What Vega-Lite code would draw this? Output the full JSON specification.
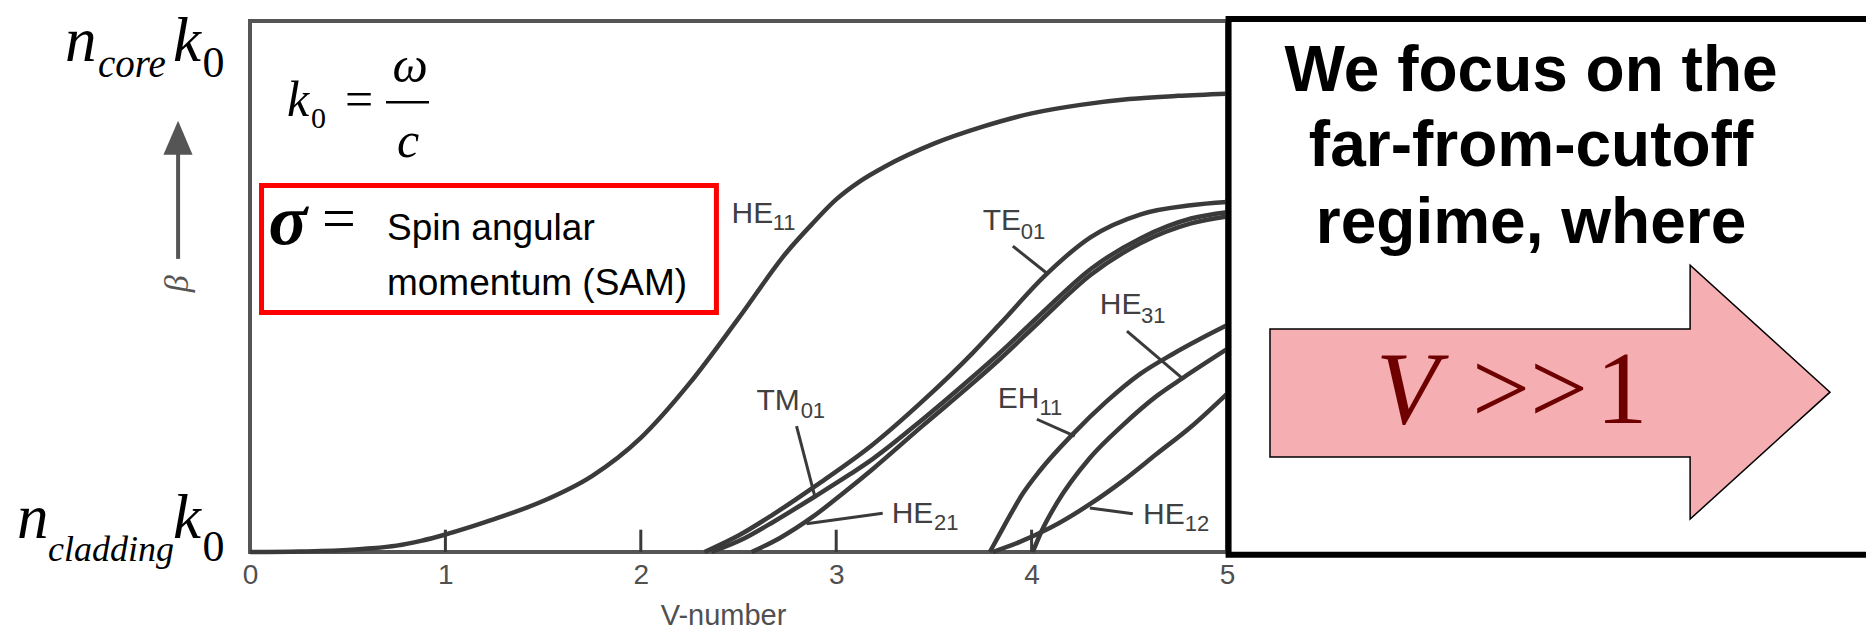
{
  "$schema": "https://vega.github.io/schema/vega-lite/v6.json",
  "width": 977,
  "height": 531,
  "autosize": {"type": "none"},
  "padding": {"left": 250, "top": 21, "right": 639, "bottom": 84},
  "background": "white",
  "config": {"view": {"stroke": "#555555", "strokeWidth": 4}},
  "datasets": {
    "curves": [
      {"m": "HE11", "V": 0, "b": 0}, {"m": "HE11", "V": 0.25, "b": 0.001}, {"m": "HE11", "V": 0.5, "b": 0.004},
      {"m": "HE11", "V": 0.625, "b": 0.007}, {"m": "HE11", "V": 0.75, "b": 0.012}, {"m": "HE11", "V": 0.875, "b": 0.021},
      {"m": "HE11", "V": 1.0, "b": 0.033}, {"m": "HE11", "V": 1.125, "b": 0.047}, {"m": "HE11", "V": 1.25, "b": 0.062},
      {"m": "HE11", "V": 1.5, "b": 0.096}, {"m": "HE11", "V": 1.75, "b": 0.143}, {"m": "HE11", "V": 2.0, "b": 0.215},
      {"m": "HE11", "V": 2.25, "b": 0.318}, {"m": "HE11", "V": 2.5, "b": 0.440}, {"m": "HE11", "V": 2.75, "b": 0.566},
      {"m": "HE11", "V": 2.875, "b": 0.617}, {"m": "HE11", "V": 3.0, "b": 0.664}, {"m": "HE11", "V": 3.125, "b": 0.699},
      {"m": "HE11", "V": 3.25, "b": 0.726}, {"m": "HE11", "V": 3.5, "b": 0.769},
      {"m": "HE11", "V": 3.75, "b": 0.801}, {"m": "HE11", "V": 4.0, "b": 0.826}, {"m": "HE11", "V": 4.25, "b": 0.842},
      {"m": "HE11", "V": 4.5, "b": 0.853}, {"m": "HE11", "V": 4.75, "b": 0.859}, {"m": "HE11", "V": 5.0, "b": 0.863},

      {"m": "TE01", "V": 2.326, "b": 0}, {"m": "TE01", "V": 2.505, "b": 0.032}, {"m": "TE01", "V": 2.674, "b": 0.070},
      {"m": "TE01", "V": 2.900, "b": 0.126}, {"m": "TE01", "V": 3.186, "b": 0.202}, {"m": "TE01", "V": 3.442, "b": 0.284},
      {"m": "TE01", "V": 3.699, "b": 0.375}, {"m": "TE01", "V": 3.842, "b": 0.431}, {"m": "TE01", "V": 4.067, "b": 0.520},
      {"m": "TE01", "V": 4.303, "b": 0.593}, {"m": "TE01", "V": 4.559, "b": 0.636}, {"m": "TE01", "V": 4.815, "b": 0.653},
      {"m": "TE01", "V": 5.0, "b": 0.659},

      {"m": "TM01", "V": 2.362, "b": 0}, {"m": "TM01", "V": 2.531, "b": 0.026}, {"m": "TM01", "V": 2.684, "b": 0.058},
      {"m": "TM01", "V": 2.889, "b": 0.104}, {"m": "TM01", "V": 3.069, "b": 0.146}, {"m": "TM01", "V": 3.186, "b": 0.175},
      {"m": "TM01", "V": 3.443, "b": 0.250}, {"m": "TM01", "V": 3.699, "b": 0.330}, {"m": "TM01", "V": 3.837, "b": 0.375},
      {"m": "TM01", "V": 4.047, "b": 0.448}, {"m": "TM01", "V": 4.303, "b": 0.533}, {"m": "TM01", "V": 4.559, "b": 0.591},
      {"m": "TM01", "V": 4.816, "b": 0.628}, {"m": "TM01", "V": 5.0, "b": 0.640},

      {"m": "HE21", "V": 2.567, "b": 0}, {"m": "HE21", "V": 2.710, "b": 0.026}, {"m": "HE21", "V": 2.879, "b": 0.066},
      {"m": "HE21", "V": 3.043, "b": 0.113}, {"m": "HE21", "V": 3.186, "b": 0.156}, {"m": "HE21", "V": 3.443, "b": 0.238},
      {"m": "HE21", "V": 3.699, "b": 0.318}, {"m": "HE21", "V": 3.837, "b": 0.363}, {"m": "HE21", "V": 4.047, "b": 0.436},
      {"m": "HE21", "V": 4.303, "b": 0.522}, {"m": "HE21", "V": 4.559, "b": 0.582}, {"m": "HE21", "V": 4.816, "b": 0.619},
      {"m": "HE21", "V": 5.0, "b": 0.632},

      {"m": "EH11", "V": 3.786, "b": 0}, {"m": "EH11", "V": 3.837, "b": 0.034}, {"m": "EH11", "V": 3.888, "b": 0.068},
      {"m": "EH11", "V": 3.955, "b": 0.110}, {"m": "EH11", "V": 4.042, "b": 0.153}, {"m": "EH11", "V": 4.211, "b": 0.222},
      {"m": "EH11", "V": 4.385, "b": 0.284}, {"m": "EH11", "V": 4.554, "b": 0.335}, {"m": "EH11", "V": 4.723, "b": 0.373},
      {"m": "EH11", "V": 4.862, "b": 0.401}, {"m": "EH11", "V": 5.0, "b": 0.427},

      {"m": "HE31", "V": 4.006, "b": 0}, {"m": "HE31", "V": 4.052, "b": 0.040}, {"m": "HE31", "V": 4.129, "b": 0.092},
      {"m": "HE31", "V": 4.298, "b": 0.177}, {"m": "HE31", "V": 4.467, "b": 0.239}, {"m": "HE31", "V": 4.641, "b": 0.294},
      {"m": "HE31", "V": 4.775, "b": 0.328}, {"m": "HE31", "V": 5.0, "b": 0.382},

      {"m": "HE12", "V": 3.801, "b": 0}, {"m": "HE12", "V": 3.940, "b": 0.019}, {"m": "HE12", "V": 4.093, "b": 0.045},
      {"m": "HE12", "V": 4.298, "b": 0.090}, {"m": "HE12", "V": 4.467, "b": 0.134}, {"m": "HE12", "V": 4.641, "b": 0.185},
      {"m": "HE12", "V": 4.810, "b": 0.234}, {"m": "HE12", "V": 5.0, "b": 0.298}
    ],
    "leaders": [
      {"m": "TM01", "V": 2.797, "b": 0.237, "V2": 2.889, "b2": 0.107},
      {"m": "HE21", "V": 3.238, "b": 0.073, "V2": 2.848, "b2": 0.053},
      {"m": "EH11", "V": 4.027, "b": 0.250, "V2": 4.221, "b2": 0.218},
      {"m": "HE31", "V": 4.488, "b": 0.416, "V2": 4.775, "b2": 0.326},
      {"m": "HE12", "V": 4.518, "b": 0.072, "V2": 4.298, "b2": 0.083},
      {"m": "TE01", "V": 3.904, "b": 0.576, "V2": 4.078, "b2": 0.525}
    ],
    "ticks": [
      {"V": 1, "b": 0, "b2": 0.042}, {"V": 2, "b": 0, "b2": 0.042},
      {"V": 3, "b": 0, "b2": 0.042}, {"V": 4, "b": 0, "b2": 0.042}
    ],
    "redbox": [{"V": 0.059, "V2": 2.387, "b": 0.451, "b2": 0.690}],
    "blackbox": [{"V": 5.008, "V2": 8.6, "b": -0.005, "b2": 1.004}],
    "frac": [{"V": 0.696, "V2": 0.916, "b": 0.847, "b2": 0.847}],
    "bshaft": [{"V": -0.368, "b": 0.552, "b2": 0.760}],
    "bhead": [
      {"V": -0.443, "b": 0.748, "b2": 0.748},
      {"V": -0.368, "b": 0.812, "b2": 0.748},
      {"V": -0.294, "b": 0.748, "b2": 0.748}
    ],
    "arrow": [
      {"V": 5.220, "b": 0.420, "b2": 0.179},
      {"V": 7.370, "b": 0.420, "b2": 0.179},
      {"V": 7.3702, "b": 0.540, "b2": 0.062},
      {"V": 8.086, "b": 0.301, "b2": 0.301}
    ],
    "texts": [
      {"g": "lab", "t": "HE", "V": 2.464, "b": 0.620},
      {"g": "lab", "t": "TE", "V": 3.750, "b": 0.606},
      {"g": "lab", "t": "TM", "V": 2.592, "b": 0.267},
      {"g": "lab", "t": "HE", "V": 3.284, "b": 0.055},
      {"g": "lab", "t": "EH", "V": 3.827, "b": 0.271},
      {"g": "lab", "t": "HE", "V": 4.349, "b": 0.448},
      {"g": "lab", "t": "HE", "V": 4.570, "b": 0.053},
      {"g": "sub", "t": "11", "V": 2.675, "b": 0.606},
      {"g": "sub", "t": "01", "V": 3.945, "b": 0.589},
      {"g": "sub", "t": "01", "V": 2.818, "b": 0.252},
      {"g": "sub", "t": "21", "V": 3.500, "b": 0.041},
      {"g": "sub", "t": "11", "V": 4.040, "b": 0.258},
      {"g": "sub", "t": "31", "V": 4.560, "b": 0.431},
      {"g": "sub", "t": "12", "V": 4.784, "b": 0.040},
      {"g": "ital50c", "t": "k", "V": 0.246, "b": 0.821},
      {"g": "ital50c", "t": "ω", "V": 0.819, "b": 0.885},
      {"g": "ital50c", "t": "c", "V": 0.809, "b": 0.744},
      {"g": "rom30", "t": "0", "V": 0.312, "b": 0.798},
      {"g": "rom50c", "t": "=", "V": 0.558, "b": 0.821},
      {"g": "rom60c", "t": "=", "V": 0.455, "b": 0.591},
      {"g": "sigma", "t": "σ", "V": 0.194, "b": 0.580},
      {"g": "sans37", "t": "Spin angular", "V": 0.701, "b": 0.588},
      {"g": "sans37", "t": "momentum (SAM)", "V": 0.701, "b": 0.484},
      {"g": "ital64", "t": "n", "V": -0.947, "b": 0.925},
      {"g": "ital64", "t": "k", "V": -0.394, "b": 0.925},
      {"g": "ital64", "t": "n", "V": -1.192, "b": 0.026},
      {"g": "ital64", "t": "k", "V": -0.394, "b": 0.026},
      {"g": "ital38", "t": "core", "V": -0.778, "b": 0.894},
      {"g": "ital35", "t": "cladding", "V": -1.034, "b": -0.017},
      {"g": "rom38", "t": "0", "V": -0.243, "b": 0.894},
      {"g": "rom38", "t": "0", "V": -0.243, "b": -0.017},
      {"g": "beta", "t": "β", "V": -0.368, "b": 0.505},
      {"g": "bold64c", "t": "We focus on the", "V": 6.556, "b": 0.868},
      {"g": "bold64c", "t": "far-from-cutoff", "V": 6.556, "b": 0.727},
      {"g": "bold64c", "t": "regime, where", "V": 6.556, "b": 0.582},
      {"g": "vital", "t": "V", "V": 5.762, "b": 0.243},
      {"g": "vrom", "t": ">>", "V": 6.254, "b": 0.243},
      {"g": "vrom", "t": "1", "V": 6.889, "b": 0.243}
    ]
  },
  "encoding": {
    "x": {
      "field": "V",
      "type": "quantitative",
      "scale": {"domain": [0, 5], "nice": false, "zero": false},
      "axis": {
        "values": [0, 1, 2, 3, 4, 5],
        "format": "d",
        "ticks": false,
        "domain": false,
        "grid": false,
        "labelFlush": false,
        "labelOverlap": false,
        "labelFont": "Liberation Sans",
        "labelFontSize": 28,
        "labelColor": "#505050",
        "labelPadding": 9,
        "title": "V-number",
        "titleFont": "Liberation Sans",
        "titleFontSize": 29,
        "titleFontWeight": "normal",
        "titleColor": "#505050",
        "titlePadding": 12,
        "titleX": 473
      }
    },
    "y": {
      "field": "b",
      "type": "quantitative",
      "scale": {"domain": [0, 1], "nice": false, "zero": false},
      "axis": null
    }
  },
  "layer": [
    {
      "data": {"name": "redbox"},
      "mark": {"type": "rect", "filled": false, "stroke": "#ff0000", "strokeWidth": 5},
      "encoding": {"x2": {"field": "V2"}, "y2": {"field": "b2"}}
    },
    {
      "data": {"name": "curves"},
      "mark": {"type": "line", "color": "#3a3a3a", "strokeWidth": 4.5, "interpolate": "monotone"},
      "encoding": {"detail": {"field": "m"}}
    },
    {
      "data": {"name": "leaders"},
      "mark": {"type": "rule", "color": "#3a3a3a", "strokeWidth": 3},
      "encoding": {"x2": {"field": "V2"}, "y2": {"field": "b2"}}
    },
    {
      "data": {"name": "ticks"},
      "mark": {"type": "rule", "color": "#3a3a3a", "strokeWidth": 3},
      "encoding": {"y2": {"field": "b2"}}
    },
    {
      "data": {"name": "frac"},
      "mark": {"type": "rule", "color": "#000000", "strokeWidth": 2.5},
      "encoding": {"x2": {"field": "V2"}, "y2": {"field": "b2"}}
    },
    {
      "data": {"name": "bshaft"},
      "mark": {"type": "rule", "color": "#555555", "strokeWidth": 4},
      "encoding": {"y2": {"field": "b2"}}
    },
    {
      "data": {"name": "bhead"},
      "mark": {"type": "area", "color": "#555555", "interpolate": "linear"},
      "encoding": {"y2": {"field": "b2"}}
    },
    {
      "data": {"name": "texts"},
      "transform": [{"filter": "datum.g == 'lab'"}],
      "mark": {"type": "text", "font": "Liberation Sans", "fontSize": 30, "color": "#404040", "align": "left", "baseline": "alphabetic"},
      "encoding": {"text": {"field": "t"}}
    },
    {
      "data": {"name": "texts"},
      "transform": [{"filter": "datum.g == 'sub'"}],
      "mark": {"type": "text", "font": "Liberation Sans", "fontSize": 22, "color": "#404040", "align": "left", "baseline": "alphabetic"},
      "encoding": {"text": {"field": "t"}}
    },
    {
      "data": {"name": "texts"},
      "transform": [{"filter": "datum.g == 'ital50c'"}],
      "mark": {"type": "text", "font": "Liberation Serif", "fontStyle": "italic", "fontSize": 50, "color": "#000000", "align": "center", "baseline": "alphabetic"},
      "encoding": {"text": {"field": "t"}}
    },
    {
      "data": {"name": "texts"},
      "transform": [{"filter": "datum.g == 'rom30'"}],
      "mark": {"type": "text", "font": "Liberation Serif", "fontSize": 30, "color": "#000000", "align": "left", "baseline": "alphabetic"},
      "encoding": {"text": {"field": "t"}}
    },
    {
      "data": {"name": "texts"},
      "transform": [{"filter": "datum.g == 'rom50c'"}],
      "mark": {"type": "text", "font": "Liberation Serif", "fontSize": 50, "color": "#000000", "align": "center", "baseline": "alphabetic"},
      "encoding": {"text": {"field": "t"}}
    },
    {
      "data": {"name": "texts"},
      "transform": [{"filter": "datum.g == 'rom60c'"}],
      "mark": {"type": "text", "font": "Liberation Serif", "fontSize": 60, "color": "#000000", "align": "center", "baseline": "alphabetic"},
      "encoding": {"text": {"field": "t"}}
    },
    {
      "data": {"name": "texts"},
      "transform": [{"filter": "datum.g == 'sigma'"}],
      "mark": {"type": "text", "font": "Liberation Serif", "fontStyle": "italic", "fontWeight": "bold", "fontSize": 72, "color": "#000000", "align": "center", "baseline": "alphabetic"},
      "encoding": {"text": {"field": "t"}}
    },
    {
      "data": {"name": "texts"},
      "transform": [{"filter": "datum.g == 'sans37'"}],
      "mark": {"type": "text", "font": "Liberation Sans", "fontSize": 37, "color": "#000000", "align": "left", "baseline": "alphabetic"},
      "encoding": {"text": {"field": "t"}}
    },
    {
      "data": {"name": "texts"},
      "transform": [{"filter": "datum.g == 'ital64'"}],
      "mark": {"type": "text", "font": "Liberation Serif", "fontStyle": "italic", "fontSize": 63, "color": "#000000", "align": "left", "baseline": "alphabetic"},
      "encoding": {"text": {"field": "t"}}
    },
    {
      "data": {"name": "texts"},
      "transform": [{"filter": "datum.g == 'ital38'"}],
      "mark": {"type": "text", "font": "Liberation Serif", "fontStyle": "italic", "fontSize": 39, "color": "#000000", "align": "left", "baseline": "alphabetic"},
      "encoding": {"text": {"field": "t"}}
    },
    {
      "data": {"name": "texts"},
      "transform": [{"filter": "datum.g == 'ital35'"}],
      "mark": {"type": "text", "font": "Liberation Serif", "fontStyle": "italic", "fontSize": 36, "color": "#000000", "align": "left", "baseline": "alphabetic"},
      "encoding": {"text": {"field": "t"}}
    },
    {
      "data": {"name": "texts"},
      "transform": [{"filter": "datum.g == 'rom38'"}],
      "mark": {"type": "text", "font": "Liberation Serif", "fontSize": 44, "color": "#000000", "align": "left", "baseline": "alphabetic"},
      "encoding": {"text": {"field": "t"}}
    },
    {
      "data": {"name": "texts"},
      "transform": [{"filter": "datum.g == 'beta'"}],
      "mark": {"type": "text", "font": "Liberation Serif", "fontStyle": "italic", "fontSize": 34, "color": "#555555", "align": "center", "baseline": "middle", "angle": 270},
      "encoding": {"text": {"field": "t"}}
    },
    {
      "data": {"name": "blackbox"},
      "mark": {"type": "rect", "fill": "#ffffff", "stroke": "#000000", "strokeWidth": 6},
      "encoding": {"x2": {"field": "V2"}, "y2": {"field": "b2"}}
    },
    {
      "data": {"name": "arrow"},
      "mark": {"type": "area", "fill": "#f5afb3", "stroke": "#000000", "strokeWidth": 1.5, "interpolate": "linear"},
      "encoding": {"y2": {"field": "b2"}}
    },
    {
      "data": {"name": "texts"},
      "transform": [{"filter": "datum.g == 'bold64c'"}],
      "mark": {"type": "text", "font": "Liberation Sans", "fontWeight": "bold", "fontSize": 64, "color": "#000000", "align": "center", "baseline": "alphabetic"},
      "encoding": {"text": {"field": "t"}}
    },
    {
      "data": {"name": "texts"},
      "transform": [{"filter": "datum.g == 'vital'"}],
      "mark": {"type": "text", "font": "Liberation Serif", "fontStyle": "italic", "fontSize": 103, "color": "#6e0000", "align": "left", "baseline": "alphabetic"},
      "encoding": {"text": {"field": "t"}}
    },
    {
      "data": {"name": "texts"},
      "transform": [{"filter": "datum.g == 'vrom'"}],
      "mark": {"type": "text", "font": "Liberation Serif", "fontSize": 103, "color": "#6e0000", "align": "left", "baseline": "alphabetic"},
      "encoding": {"text": {"field": "t"}}
    }
  ]
}
